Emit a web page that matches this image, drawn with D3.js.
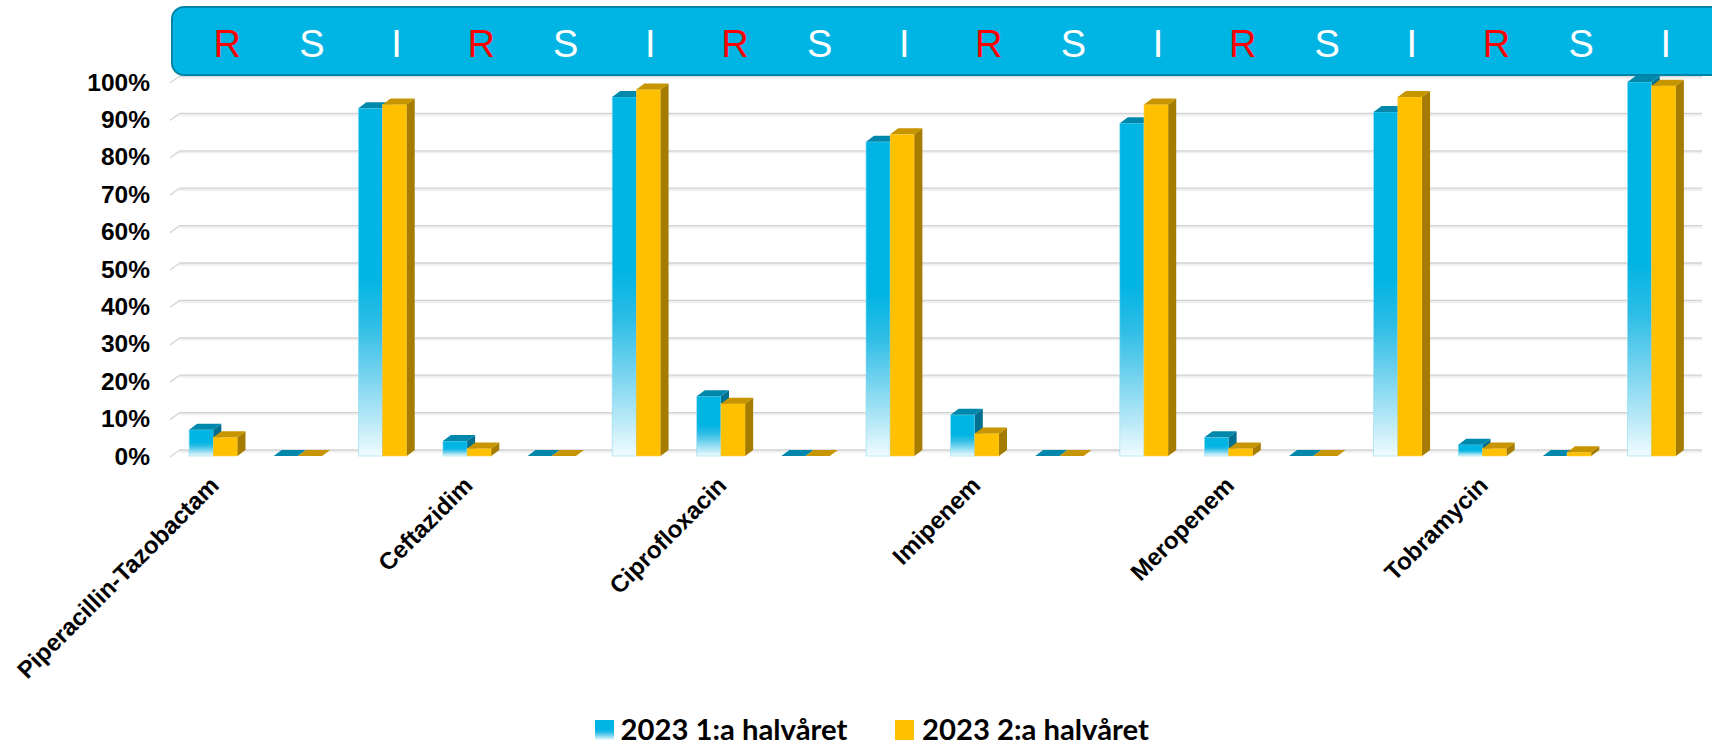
<!DOCTYPE html>
<html>
<head>
<meta charset="utf-8">
<script src="https://cdn.jsdelivr.net/npm/d3@7"></script>
<style>
  html, body { margin: 0; padding: 0; background: #ffffff; }
  svg { display: block; }
</style>
</head>
<body>
<svg id="chart" width="1712" height="746"></svg>
<script>
// ---------------- data ----------------
const antibiotics = ["Piperacillin-Tazobactam", "Ceftazidim", "Ciprofloxacin", "Imipenem", "Meropenem", "Tobramycin"];
const resultTypes = ["R", "S", "I"];
const seriesNames = ["2023 1:a halvåret", "2023 2:a halvåret"];
// percent per slot: antibiotic x (R, S, I)
const firstHalf  = [7, 0, 93,  4, 0, 96,  16, 0, 84,  11, 0, 89,  5, 0, 92,  3, 0, 100];
const secondHalf = [5, 0, 94,  2, 0, 98,  14, 0, 86,   6, 0, 94,  2, 0, 96,  2, 1, 99];
const yTicks = [0, 10, 20, 30, 40, 50, 60, 70, 80, 90, 100];

// ---------------- build slots ----------------
const slots = [];
antibiotics.forEach((ab, ai) => {
  resultTypes.forEach((rt, ri) => {
    const i = ai * 3 + ri;
    slots.push({ key: String(i), antibiotic: ab, type: rt, showLabel: ri === 0, values: [firstHalf[i], secondHalf[i]] });
  });
});

// ---------------- layout ----------------
const W = 1712, H = 746;
const DX = 8, DY = 6;               // 3D depth offset
const svg = d3.select("#chart");
svg.append("rect").attr("width", W).attr("height", H).attr("fill", "#ffffff");

const x = d3.scaleBand().domain(slots.map(d => d.key)).range([171, 1694]).paddingInner(0).paddingOuter(0);
const y = d3.scaleLinear().domain([0, 100]).range([450, 76]);   // back wall
const barW = x.bandwidth() * 0.286;
const groupOff = (x.bandwidth() - 2 * barW) / 2;

// ---------------- defs ----------------
const defs = svg.append("defs");
const gb = defs.append("linearGradient").attr("id", "blueGrad").attr("x1", 0).attr("y1", 0).attr("x2", 0).attr("y2", 1);
[[0, "#00B4E3"], [0.48, "#00B4E3"], [0.62, "#2dbde6"], [0.76, "#72d2ee"], [0.9, "#b9e9f7"], [1, "#f0fbfe"]]
  .forEach(s => gb.append("stop").attr("offset", s[0]).attr("stop-color", s[1]));

// ---------------- gridlines (back wall) ----------------
const grid = svg.append("g");
const xBackL = x.range()[0] + DX, xBackR = x.range()[1] + DX;
yTicks.forEach(t => {
  const yy = y(t);
  grid.append("line").attr("x1", xBackL).attr("x2", xBackR).attr("y1", yy + 1.5).attr("y2", yy + 1.5)
    .attr("stroke", "#efefef").attr("stroke-width", 2.5);
  grid.append("line").attr("x1", xBackL).attr("x2", xBackR).attr("y1", yy).attr("y2", yy)
    .attr("stroke", "#d2d2d2").attr("stroke-width", 1.3);
  grid.append("line").attr("x1", x.range()[0] - 1).attr("x2", xBackL).attr("y1", yy + DY + 1).attr("y2", yy + 0.5)
    .attr("stroke", "#d8d8d8").attr("stroke-width", 1.5);
});

// ---------------- y axis labels ----------------
svg.append("g").selectAll("text").data(yTicks).join("text")
  .attr("x", 150).attr("y", d => y(d) + DY)
  .attr("text-anchor", "end").attr("dominant-baseline", "central")
  .attr("font-family", "'Liberation Sans', Arial, sans-serif").attr("font-weight", "bold")
  .attr("font-size", 24.5).attr("fill", "#000")
  .text(d => d + "%");

// ---------------- bars ----------------
const styles = [
  { front: "url(#blueGrad)", top: "#0088AC", side: "#007090", stroke: "#8fdcf2" },
  { front: "#FFC000", top: "#C69500", side: "#A67C00", stroke: "#ffd24d" }
];
const barsG = svg.append("g");
slots.forEach(s => {
  s.values.forEach((v, si) => {
    const st = styles[si];
    const bx = x(s.key) + groupOff + si * barW;
    const yTop = y(v), y0 = y(0);
    const g = barsG.append("g");
    if (v > 0) {
      g.append("rect").attr("x", bx).attr("y", yTop + DY).attr("width", barW).attr("height", y0 - yTop)
        .attr("fill", st.front).attr("stroke", st.stroke).attr("stroke-width", 0.6);
      g.append("polygon").attr("points", [
        [bx + barW, yTop + DY], [bx + barW + DX, yTop], [bx + barW + DX, y0], [bx + barW, y0 + DY]
      ].map(p => p.join(",")).join(" ")).attr("fill", st.side);
    }
    g.append("polygon").attr("points", [
      [bx, yTop + DY], [bx + barW, yTop + DY], [bx + barW + DX, yTop], [bx + DX, yTop]
    ].map(p => p.join(",")).join(" ")).attr("fill", st.top);
  });
});

// ---------------- x axis labels ----------------
svg.append("g").selectAll("text").data(slots.filter(d => d.showLabel)).join("text")
  .attr("transform", d => `translate(${x(d.key) + x.bandwidth() / 2 + 7},487) rotate(-45)`)
  .attr("text-anchor", "end")
  .attr("font-family", "'Liberation Sans', Arial, sans-serif").attr("font-weight", "bold")
  .attr("font-size", 24).attr("fill", "#000")
  .text(d => d.antibiotic);

// ---------------- banner ----------------
const banner = svg.append("g");
banner.append("rect").attr("x", 172).attr("y", 7).attr("width", 1600).attr("height", 68).attr("rx", 12)
  .attr("fill", "#00B5E3").attr("stroke", "#0083A6").attr("stroke-width", 2);
banner.selectAll("text").data(slots).join("text")
  .attr("x", d => x(d.key) + x.bandwidth() / 2 + 14).attr("y", 57)
  .attr("text-anchor", "middle")
  .attr("font-family", "'Liberation Sans', Arial, sans-serif").attr("font-size", 38)
  .attr("fill", d => d.type === "R" ? "#FF0000" : "#FFFFFF")
  .text(d => d.type);

// ---------------- legend ----------------
const legend = svg.append("g");
const legendItems = [
  { name: seriesNames[0], fill: "url(#blueGrad)", sx: 595, tx: 620.5 },
  { name: seriesNames[1], fill: "#FFC000", sx: 895, tx: 922 }
];
legendItems.forEach(it => {
  legend.append("rect").attr("x", it.sx).attr("y", 720).attr("width", 19).attr("height", 20).attr("fill", it.fill);
  const t = legend.append("text").attr("x", it.tx).attr("y", 739.5)
    .attr("font-family", "Lato, 'Liberation Sans Narrow', sans-serif").attr("font-weight", "bold")
    .attr("font-size", 28).attr("fill", "#000").text(it.name);
  const w = t.node().getComputedTextLength();
  if (w > 0) t.attr("font-size", Math.min(31, 28 * 227 / w));
});
</script>
</body>
</html>
